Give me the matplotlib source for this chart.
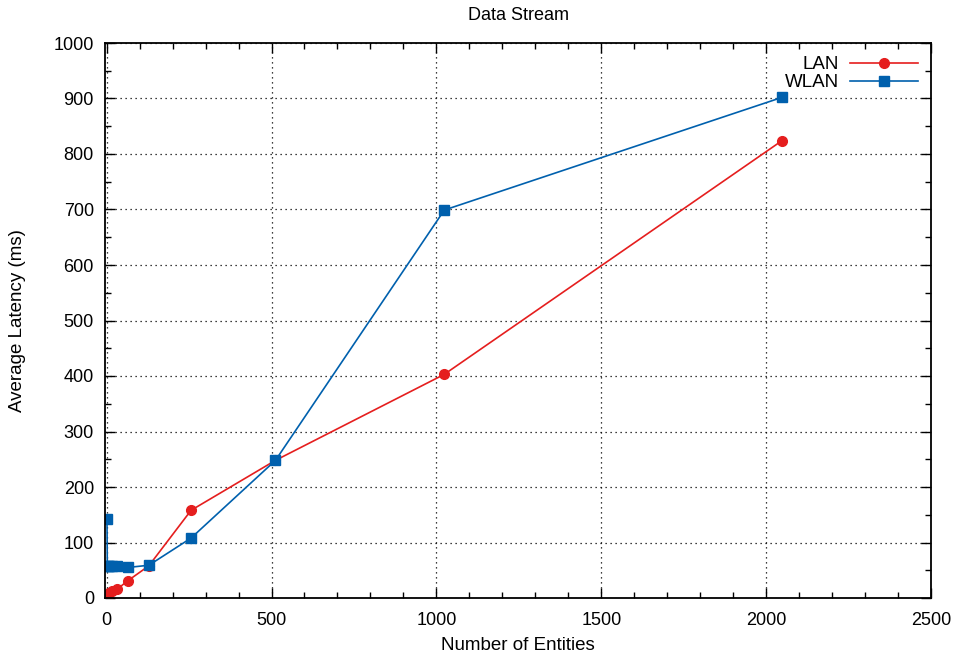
import matplotlib
matplotlib.use("Agg")
import matplotlib.pyplot as plt
from matplotlib.ticker import MultipleLocator

plt.rcParams['font.family'] = ['Liberation Sans', 'DejaVu Sans']

entities = [1, 2, 4, 8, 16, 32, 64, 128, 256, 512, 1024, 2048]
lan = [2, 4, 6, 9, 13, 16, 31, 58, 158, 248, 403, 824]
wlan = [142, 58, 58, 57, 57, 57, 55, 59, 108, 248, 699, 902]

fig = plt.figure(figsize=(9.56, 6.58), dpi=100)
ax = fig.add_axes([105/956, 1-598/658, (931-105)/956, (598-43)/658])

ax.plot(entities, lan, color='#e51e1e', marker='o', markersize=7, lw=1.2, label='LAN')
ax.plot(entities, wlan, color='#0060ad', marker='s', markersize=7, lw=1.2, label='WLAN')

ax.set_xlim(-5, 2500)
ax.set_ylim(0, 1000)
ax.xaxis.set_major_locator(MultipleLocator(500))
ax.xaxis.set_minor_locator(MultipleLocator(100))
ax.yaxis.set_major_locator(MultipleLocator(100))
ax.yaxis.set_minor_locator(MultipleLocator(50))
ax.tick_params(which='both', direction='in', top=True, right=True, labelsize=13, width=1)
ax.tick_params(which='major', length=7)
ax.tick_params(which='minor', length=4)
ax.tick_params(axis='y', pad=8)
ax.tick_params(axis='x', pad=10)
ax.grid(True, which='major', color='black', linestyle=(0, (1, 3)), lw=0.9)
for s in ax.spines.values():
    s.set_linewidth(1.3)

fig.text(518/956, 1-15/658, 'Data Stream', fontsize=13, ha='center', va='center')
ax.set_xlabel('Number of Entities', fontsize=13.5)
ax.set_ylabel('Average Latency (ms)', fontsize=13.5)
ax.xaxis.set_label_coords(0.5, (598-645)/555)
ax.yaxis.set_label_coords((18-105)/826, 0.5)
ax.xaxis.label.set_va('center')
ax.yaxis.label.set_va('center')

ax.legend(loc='upper right', frameon=False, markerfirst=False, fontsize=13.5,
          handlelength=3.6, handletextpad=0.6, borderaxespad=0.3, labelspacing=0.05)

fig.savefig('out.png', dpi=100)
